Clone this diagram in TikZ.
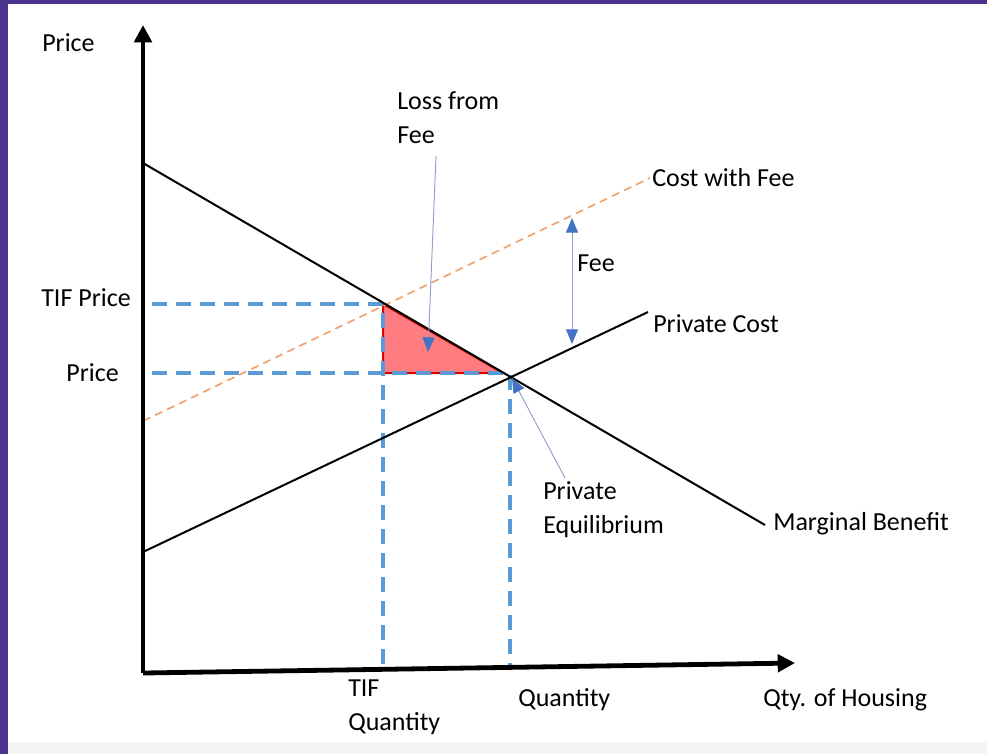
\documentclass[tikz,border=0pt]{standalone}
\usepackage{fontspec}
\setmainfont{Carlito}
\usepackage{tikz}
\usetikzlibrary{calc,positioning,arrows,arrows.meta,backgrounds}
\definecolor{framepurple}{RGB}{75,50,140}
\definecolor{guideblue}{RGB}{91,155,213}
\definecolor{feeorange}{RGB}{240,165,115}
\definecolor{ptrblue}{RGB}{68,114,196}
\definecolor{ptrline}{RGB}{140,160,200}
\definecolor{lossred}{RGB}{255,125,128}

\begin{document}
\begin{tikzpicture}[x=0.75pt, y=-0.75pt, font=\fontsize{19.5}{25.5}\selectfont]
\tikzstyle{axis}=[line width=3.6pt, -{Triangle[length=13pt, width=13pt]}]
\tikzstyle{crv}=[line width=1.5pt, black]
\tikzstyle{dashguide}=[guideblue, line width=2.6pt, dash pattern=on 11pt off 7pt]
\tikzstyle{feecrv}=[feeorange, line width=1.3pt, dash pattern=on 6pt off 4pt]
\tikzstyle{ptr}=[ptrline, line width=0.7pt, -{Triangle[length=11pt, width=9pt, color=ptrblue]}]
\tikzstyle{dptr}=[ptrline, line width=0.7pt, {Triangle[length=11pt, width=9pt, color=ptrblue]}-{Triangle[length=11pt, width=9pt, color=ptrblue]}]
\tikzstyle{lbl}=[inner sep=0pt, anchor=west, align=left]
% frame
\useasboundingbox (0,0) rectangle (987,754);
\fill[white] (0,0) rectangle (987,754);
\fill[black!4] (0,742) rectangle (987,754);
\fill[framepurple] (0,0) rectangle (8,754);
\fill[framepurple] (0,0) rectangle (987,4);
% points
\coordinate (O) at (143,673);
\coordinate (ytip) at (143,25);
\coordinate (xtip) at (795,663);
\coordinate (mb0) at (143,163);
\coordinate (mb1) at (765,525);
\coordinate (pc0) at (143,552);
\coordinate (pc1) at (648,312);
\coordinate (cf0) at (143,421);
\coordinate (cf1) at (650,178);
\coordinate (tif) at (383,304);
\coordinate (tifp) at (383,373);
\coordinate (tri) at (503,373);
\coordinate (eq) at (510,376);
\coordinate (tifP) at (152,304);
\coordinate (eqP) at (152,373);
\coordinate (tifQ) at (383,668);
\coordinate (eqQ) at (510,668);
\coordinate (feeTop) at (572,218);
\coordinate (feeBot) at (572,344);
% loss triangle
\filldraw[fill=lossred, draw=red!85!black, line width=1.5pt] (tif) -- (tifp) -- (tri) -- cycle;
% guides
\draw[dashguide] (tifP) -- (tif) -- (tifQ);
\draw[dashguide] (eqP) -- (510,373) -- (eqQ);
% curves
\draw[feecrv] (cf0) -- (cf1);
\foreach \i/\j in {mb0/mb1,pc0/pc1}{\draw[crv] (\i) -- (\j);}
% axes
\draw[axis] (O) -- (ytip);
\draw[axis] (O) -- (xtip);
% labels
\node[lbl] (yname) at (42,43) {Price};
\node[lbl, anchor=east] (tifprice) at (131,298) {TIF Price};
\node[lbl, anchor=east] (price) at (119,373) {Price};
\node[lbl] (lossfee) at (397,118) {Loss from\\Fee};
\node[lbl] (cwf) at (652,178) {Cost with Fee};
\node[lbl] (fee) at (577,263) {Fee};
\node[lbl] (pcost) at (653,324) {Private Cost};
\node[lbl] (peq) at (543,510) {Private\\Equilibrium};
\node[lbl] (mben) at (773,524) {Marginal Benefit};
\node[lbl] (tifq) at (348,707) {TIF\\Quantity};
\node[lbl] (qty) at (518,700) {Quantity};
\node[lbl] (xname) at (763,700) {Qty. of Housing};
% pointers
\coordinate (lossStart) at (436,156);
\coordinate (lossTip) at (428,352);
\coordinate (eqStart) at (565,478);
\coordinate (eqTip) at (512,378);
\draw[ptr] (lossStart) -- (lossTip);
\draw[ptr] (eqStart) -- (eqTip);
\draw[dptr] (feeBot) -- (feeTop);
\end{tikzpicture}
\end{document}
